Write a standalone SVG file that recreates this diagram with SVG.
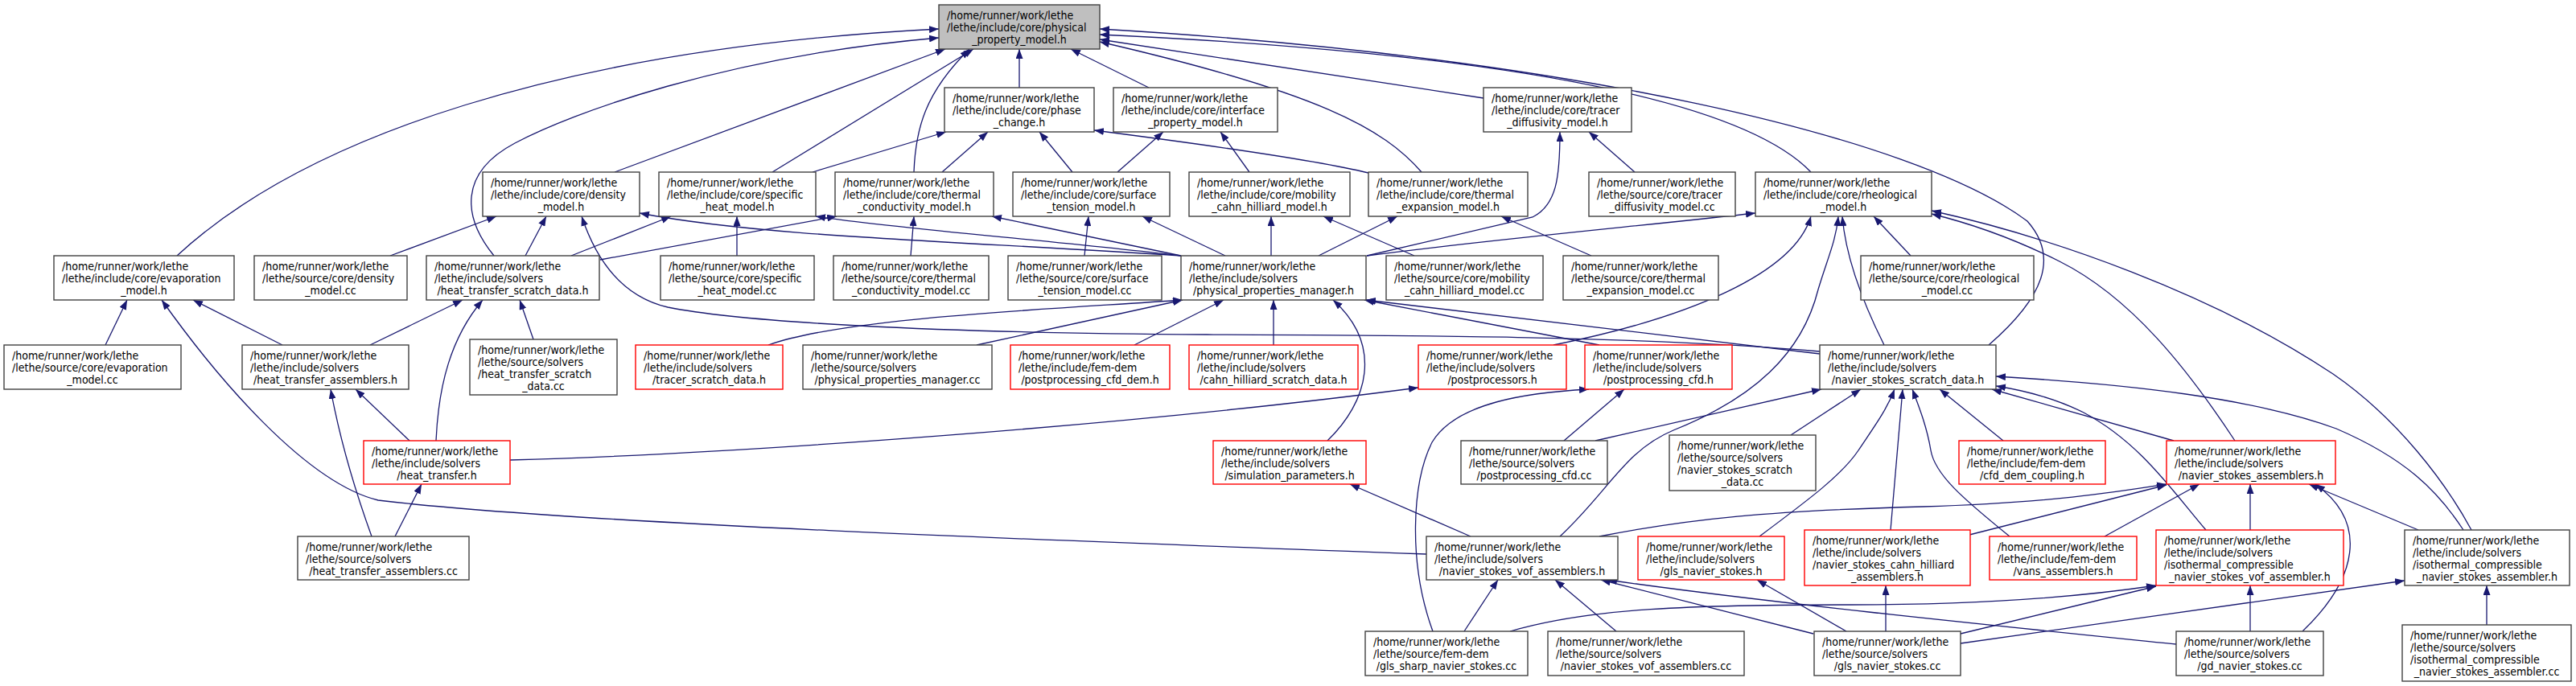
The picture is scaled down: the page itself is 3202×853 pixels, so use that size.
<svg xmlns="http://www.w3.org/2000/svg" width="3202" height="853" viewBox="0 0 3202 853">
<defs>
<marker id="ah" viewBox="0 0 12 9" refX="12" refY="4.5" markerWidth="12" markerHeight="9" markerUnits="userSpaceOnUse" orient="auto"><path d="M0,0 L12,4.5 L0,9 z" fill="#191970"/></marker>
<style>
.e{fill:none;stroke:#191970;stroke-width:1.3;marker-end:url(#ah)}
rect{fill:#fff;stroke:#404040;stroke-width:1.4}
rect.r{stroke:#ff0000}
rect.g{fill:#bfbfbf}
text{font-family:"DejaVu Sans Condensed","DejaVu Sans",sans-serif;font-stretch:condensed;font-size:14px;fill:#000}
.c{text-anchor:middle}
</style>
</defs>
<rect x="0" y="0" width="3202" height="853" style="fill:#fff;stroke:none"/>
<g id="connectors">
<path class="e" d="M220,318 C380,170 700,60 1167,36"/>
<path class="e" d="M614,318 C575,270 570,215 640,178 C710,141 900,70 1167,47"/>
<path class="e" d="M764,214 L1175,61"/>
<path class="e" d="M960,214 L1210,61"/>
<path class="e" d="M1136,214 C1138,160 1150,115 1205,61"/>
<path class="e" d="M1267,109 L1267,61"/>
<path class="e" d="M1428,109 L1331,61"/>
<path class="e" d="M1844,122 L1367,49"/>
<path class="e" d="M1767,214 C1720,160 1640,115 1367,52"/>
<path class="e" d="M2251,214 C2180,140 1950,70 1367,43"/>
<path class="e" d="M2472,429 C2540,370 2560,320 2520,275 C2380,170 1950,70 1367,36"/>
<path class="e" d="M1010,214 L1176,164"/>
<path class="e" d="M1171,214 L1228,164"/>
<path class="e" d="M1333,214 L1292,164"/>
<path class="e" d="M1701,215 C1640,200 1500,180 1360,162"/>
<path class="e" d="M1389,214 L1446,164"/>
<path class="e" d="M1553,214 L1517,164"/>
<path class="e" d="M2032,214 L1975,164"/>
<path class="e" d="M1699,318 L1905,270 C1935,255 1939,220 1939,164"/>
<path class="e" d="M485,318 L617,269"/>
<path class="e" d="M653,318 L679,269"/>
<path class="e" d="M2262,437 C2050,418 1750,417 1500,416 C1150,414 920,400 830,382 C770,368 740,320 723,269"/>
<path class="e" d="M1468,318 C1200,300 950,295 795,265"/>
<path class="e" d="M710,318 L834,269"/>
<path class="e" d="M916,318 L916,269"/>
<path class="e" d="M1468,318 C1300,298 1120,285 1014,269"/>
<path class="e" d="M746,323 L1040,269"/>
<path class="e" d="M1132,318 L1136,269"/>
<path class="e" d="M1468,318 L1233,269"/>
<path class="e" d="M1348,318 L1353,269"/>
<path class="e" d="M1523,318 L1420,269"/>
<path class="e" d="M1580,318 L1580,269"/>
<path class="e" d="M1758,318 L1645,269"/>
<path class="e" d="M1639,318 L1737,269"/>
<path class="e" d="M1978,318 L1866,269"/>
<path class="e" d="M1699,318 C1850,298 2050,280 2182,265"/>
<path class="e" d="M1931,429 C2100,395 2230,340 2251,269"/>
<path class="e" d="M1939,667 C2000,610 2020,560 2080,535 C2180,495 2240,440 2260,360 C2272,320 2282,300 2285,269"/>
<path class="e" d="M2342,429 C2325,395 2295,330 2290,269"/>
<path class="e" d="M2375,318 L2329,269"/>
<path class="e" d="M2778,548 C2720,460 2650,370 2560,325 C2500,295 2450,278 2401,266"/>
<path class="e" d="M3072,659 C3040,600 2980,520 2900,465 C2750,365 2550,295 2401,262"/>
<path class="e" d="M131,429 L158,373"/>
<path class="e" d="M1773,689 C1300,672 700,650 470,622 C380,600 270,470 201,373"/>
<path class="e" d="M351,429 L240,373"/>
<path class="e" d="M460,429 L575,373"/>
<path class="e" d="M542,548 C545,480 560,420 600,373"/>
<path class="e" d="M663,422 L646,373"/>
<path class="e" d="M955,429 C1050,395 1300,385 1470,373"/>
<path class="e" d="M1214,429 L1470,373"/>
<path class="e" d="M1410,429 L1521,373"/>
<path class="e" d="M1583,429 L1583,373"/>
<path class="e" d="M1650,548 C1700,500 1720,430 1657,373"/>
<path class="e" d="M2262,440 L1698,373"/>
<path class="e" d="M1988,429 L1696,373"/>
<path class="e" d="M509,548 L442,484"/>
<path class="e" d="M462,667 C445,620 425,560 411,484"/>
<path class="e" d="M491,667 L524,602"/>
<path class="e" d="M634,572 C900,565 1400,530 1763,482"/>
<path class="e" d="M1944,548 L2019,484"/>
<path class="e" d="M1781,785 C1750,700 1755,600 1780,550 C1810,500 1900,488 1975,484"/>
<path class="e" d="M1983,548 L2264,484"/>
<path class="e" d="M2226,541 L2313,484"/>
<path class="e" d="M2187,667 C2250,620 2290,590 2310,560 C2330,530 2345,510 2355,484"/>
<path class="e" d="M2350,659 L2365,484"/>
<path class="e" d="M2498,667 C2440,620 2405,590 2400,560 C2395,530 2385,505 2377,484"/>
<path class="e" d="M2490,548 L2411,484"/>
<path class="e" d="M2702,548 L2476,484"/>
<path class="e" d="M2742,659 C2700,610 2660,550 2590,513 C2560,498 2520,486 2481,480"/>
<path class="e" d="M3062,659 C3030,610 2990,570 2904,533 C2800,495 2650,478 2481,468"/>
<path class="e" d="M1828,667 L1678,602"/>
<path class="e" d="M1988,667 C2100,645 2200,635 2390,630 C2550,625 2630,612 2693,602"/>
<path class="e" d="M2448,665 L2693,603"/>
<path class="e" d="M2616,667 L2734,602"/>
<path class="e" d="M2797,659 L2797,602"/>
<path class="e" d="M3006,659 L2870,602"/>
<path class="e" d="M2862,785 C2930,720 2945,650 2878,602"/>
<path class="e" d="M1820,785 L1862,721"/>
<path class="e" d="M2009,785 L1933,721"/>
<path class="e" d="M2254,788 L1990,721"/>
<path class="e" d="M2705,801 C2500,780 2200,750 1998,721"/>
<path class="e" d="M2295,785 L2184,721"/>
<path class="e" d="M2344,785 L2344,728"/>
<path class="e" d="M1877,785 C1970,758 2080,752 2300,752 C2480,752 2600,740 2680,728"/>
<path class="e" d="M2437,788 L2680,729"/>
<path class="e" d="M2797,785 L2797,728"/>
<path class="e" d="M2437,800 L2989,722"/>
<path class="e" d="M3091,777 L3091,728"/>
</g>
<g id="n1"><rect class="g" x="1167" y="6" width="200" height="55"/><text x="1177" y="24">/home/runner/work/lethe</text><text x="1177" y="39">/lethe/include/core/physical</text><text class="c" x="1267" y="54">_property_model.h</text></g>
<g id="n2"><rect x="1174" y="109" width="186" height="55"/><text x="1184" y="127">/home/runner/work/lethe</text><text x="1184" y="142">/lethe/include/core/phase</text><text class="c" x="1267" y="157">_change.h</text></g>
<g id="n3"><rect x="1384" y="109" width="204" height="55"/><text x="1394" y="127">/home/runner/work/lethe</text><text x="1394" y="142">/lethe/include/core/interface</text><text class="c" x="1486" y="157">_property_model.h</text></g>
<g id="n4"><rect x="1844" y="109" width="184" height="55"/><text x="1854" y="127">/home/runner/work/lethe</text><text x="1854" y="142">/lethe/include/core/tracer</text><text class="c" x="1936" y="157">_diffusivity_model.h</text></g>
<g id="n5"><rect x="600" y="214" width="195" height="55"/><text x="610" y="232">/home/runner/work/lethe</text><text x="610" y="247">/lethe/include/core/density</text><text class="c" x="697.5" y="262">_model.h</text></g>
<g id="n6"><rect x="819" y="214" width="195" height="55"/><text x="829" y="232">/home/runner/work/lethe</text><text x="829" y="247">/lethe/include/core/specific</text><text class="c" x="916.5" y="262">_heat_model.h</text></g>
<g id="n7"><rect x="1038" y="214" width="197" height="55"/><text x="1048" y="232">/home/runner/work/lethe</text><text x="1048" y="247">/lethe/include/core/thermal</text><text class="c" x="1136.5" y="262">_conductivity_model.h</text></g>
<g id="n8"><rect x="1259" y="214" width="195" height="55"/><text x="1269" y="232">/home/runner/work/lethe</text><text x="1269" y="247">/lethe/include/core/surface</text><text class="c" x="1356.5" y="262">_tension_model.h</text></g>
<g id="n9"><rect x="1478" y="214" width="200" height="55"/><text x="1488" y="232">/home/runner/work/lethe</text><text x="1488" y="247">/lethe/include/core/mobility</text><text class="c" x="1578" y="262">_cahn_hilliard_model.h</text></g>
<g id="n10"><rect x="1701" y="214" width="198" height="55"/><text x="1711" y="232">/home/runner/work/lethe</text><text x="1711" y="247">/lethe/include/core/thermal</text><text class="c" x="1800" y="262">_expansion_model.h</text></g>
<g id="n11"><rect x="1975" y="214" width="182" height="55"/><text x="1985" y="232">/home/runner/work/lethe</text><text x="1985" y="247">/lethe/source/core/tracer</text><text class="c" x="2066" y="262">_diffusivity_model.cc</text></g>
<g id="n12"><rect x="2182" y="214" width="219" height="55"/><text x="2192" y="232">/home/runner/work/lethe</text><text x="2192" y="247">/lethe/include/core/rheological</text><text class="c" x="2291.5" y="262">_model.h</text></g>
<g id="n13"><rect x="67" y="318" width="224" height="55"/><text x="77" y="336">/home/runner/work/lethe</text><text x="77" y="351">/lethe/include/core/evaporation</text><text class="c" x="179" y="366">_model.h</text></g>
<g id="n14"><rect x="316" y="318" width="190" height="55"/><text x="326" y="336">/home/runner/work/lethe</text><text x="326" y="351">/lethe/source/core/density</text><text class="c" x="411" y="366">_model.cc</text></g>
<g id="n15"><rect x="530" y="318" width="215" height="55"/><text x="540" y="336">/home/runner/work/lethe</text><text x="540" y="351">/lethe/include/solvers</text><text class="c" x="637.5" y="366">/heat_transfer_scratch_data.h</text></g>
<g id="n16"><rect x="821" y="318" width="191" height="55"/><text x="831" y="336">/home/runner/work/lethe</text><text x="831" y="351">/lethe/source/core/specific</text><text class="c" x="916.5" y="366">_heat_model.cc</text></g>
<g id="n17"><rect x="1036" y="318" width="193" height="55"/><text x="1046" y="336">/home/runner/work/lethe</text><text x="1046" y="351">/lethe/source/core/thermal</text><text class="c" x="1132.5" y="366">_conductivity_model.cc</text></g>
<g id="n18"><rect x="1253" y="318" width="191" height="55"/><text x="1263" y="336">/home/runner/work/lethe</text><text x="1263" y="351">/lethe/source/core/surface</text><text class="c" x="1348.5" y="366">_tension_model.cc</text></g>
<g id="n19"><rect x="1468" y="318" width="230" height="55"/><text x="1478" y="336">/home/runner/work/lethe</text><text x="1478" y="351">/lethe/include/solvers</text><text class="c" x="1583" y="366">/physical_properties_manager.h</text></g>
<g id="n20"><rect x="1723" y="318" width="195" height="55"/><text x="1733" y="336">/home/runner/work/lethe</text><text x="1733" y="351">/lethe/source/core/mobility</text><text class="c" x="1820.5" y="366">_cahn_hilliard_model.cc</text></g>
<g id="n21"><rect x="1943" y="318" width="193" height="55"/><text x="1953" y="336">/home/runner/work/lethe</text><text x="1953" y="351">/lethe/source/core/thermal</text><text class="c" x="2039.5" y="366">_expansion_model.cc</text></g>
<g id="n22"><rect x="2313" y="318" width="215" height="55"/><text x="2323" y="336">/home/runner/work/lethe</text><text x="2323" y="351">/lethe/source/core/rheological</text><text class="c" x="2420.5" y="366">_model.cc</text></g>
<g id="n23"><rect x="5" y="429" width="220" height="55"/><text x="15" y="447">/home/runner/work/lethe</text><text x="15" y="462">/lethe/source/core/evaporation</text><text class="c" x="115" y="477">_model.cc</text></g>
<g id="n24"><rect x="301" y="429" width="207" height="55"/><text x="311" y="447">/home/runner/work/lethe</text><text x="311" y="462">/lethe/include/solvers</text><text class="c" x="404.5" y="477">/heat_transfer_assemblers.h</text></g>
<g id="n25"><rect x="584" y="422" width="183" height="69"/><text x="594" y="439.5">/home/runner/work/lethe</text><text x="594" y="454.5">/lethe/source/solvers</text><text x="594" y="469.5">/heat_transfer_scratch</text><text class="c" x="675.5" y="484.5">_data.cc</text></g>
<g id="n26"><rect class="r" x="790" y="429" width="183" height="55"/><text x="800" y="447">/home/runner/work/lethe</text><text x="800" y="462">/lethe/include/solvers</text><text class="c" x="881.5" y="477">/tracer_scratch_data.h</text></g>
<g id="n27"><rect x="998" y="429" width="235" height="55"/><text x="1008" y="447">/home/runner/work/lethe</text><text x="1008" y="462">/lethe/source/solvers</text><text class="c" x="1115.5" y="477">/physical_properties_manager.cc</text></g>
<g id="n28"><rect class="r" x="1256" y="429" width="198" height="55"/><text x="1266" y="447">/home/runner/work/lethe</text><text x="1266" y="462">/lethe/include/fem-dem</text><text class="c" x="1355" y="477">/postprocessing_cfd_dem.h</text></g>
<g id="n29"><rect class="r" x="1478" y="429" width="210" height="55"/><text x="1488" y="447">/home/runner/work/lethe</text><text x="1488" y="462">/lethe/include/solvers</text><text class="c" x="1583" y="477">/cahn_hilliard_scratch_data.h</text></g>
<g id="n30"><rect class="r" x="1763" y="429" width="184" height="55"/><text x="1773" y="447">/home/runner/work/lethe</text><text x="1773" y="462">/lethe/include/solvers</text><text class="c" x="1855" y="477">/postprocessors.h</text></g>
<g id="n31"><rect class="r" x="1970" y="429" width="183" height="55"/><text x="1980" y="447">/home/runner/work/lethe</text><text x="1980" y="462">/lethe/include/solvers</text><text class="c" x="2061.5" y="477">/postprocessing_cfd.h</text></g>
<g id="n32"><rect x="2262" y="429" width="219" height="55"/><text x="2272" y="447">/home/runner/work/lethe</text><text x="2272" y="462">/lethe/include/solvers</text><text class="c" x="2371.5" y="477">/navier_stokes_scratch_data.h</text></g>
<g id="n33"><rect class="r" x="452" y="548" width="182" height="54"/><text x="462" y="566">/home/runner/work/lethe</text><text x="462" y="581">/lethe/include/solvers</text><text class="c" x="543" y="596">/heat_transfer.h</text></g>
<g id="n34"><rect class="r" x="1508" y="548" width="190" height="54"/><text x="1518" y="566">/home/runner/work/lethe</text><text x="1518" y="581">/lethe/include/solvers</text><text class="c" x="1603" y="596">/simulation_parameters.h</text></g>
<g id="n35"><rect x="1816" y="548" width="182" height="54"/><text x="1826" y="566">/home/runner/work/lethe</text><text x="1826" y="581">/lethe/source/solvers</text><text class="c" x="1907" y="596">/postprocessing_cfd.cc</text></g>
<g id="n36"><rect x="2075" y="541" width="182" height="69"/><text x="2085" y="558.5">/home/runner/work/lethe</text><text x="2085" y="573.5">/lethe/source/solvers</text><text x="2085" y="588.5">/navier_stokes_scratch</text><text class="c" x="2166" y="603.5">_data.cc</text></g>
<g id="n37"><rect class="r" x="2435" y="548" width="182" height="54"/><text x="2445" y="566">/home/runner/work/lethe</text><text x="2445" y="581">/lethe/include/fem-dem</text><text class="c" x="2526" y="596">/cfd_dem_coupling.h</text></g>
<g id="n38"><rect class="r" x="2693" y="548" width="210" height="54"/><text x="2703" y="566">/home/runner/work/lethe</text><text x="2703" y="581">/lethe/include/solvers</text><text class="c" x="2798" y="596">/navier_stokes_assemblers.h</text></g>
<g id="n39"><rect x="370" y="667" width="213" height="54"/><text x="380" y="685">/home/runner/work/lethe</text><text x="380" y="700">/lethe/source/solvers</text><text class="c" x="476.5" y="715">/heat_transfer_assemblers.cc</text></g>
<g id="n40"><rect x="1773" y="667" width="238" height="54"/><text x="1783" y="685">/home/runner/work/lethe</text><text x="1783" y="700">/lethe/include/solvers</text><text class="c" x="1892" y="715">/navier_stokes_vof_assemblers.h</text></g>
<g id="n41"><rect class="r" x="2036" y="667" width="182" height="54"/><text x="2046" y="685">/home/runner/work/lethe</text><text x="2046" y="700">/lethe/include/solvers</text><text class="c" x="2127" y="715">/gls_navier_stokes.h</text></g>
<g id="n42"><rect class="r" x="2243" y="659" width="206" height="69"/><text x="2253" y="676.5">/home/runner/work/lethe</text><text x="2253" y="691.5">/lethe/include/solvers</text><text x="2253" y="706.5">/navier_stokes_cahn_hilliard</text><text class="c" x="2346" y="721.5">_assemblers.h</text></g>
<g id="n43"><rect class="r" x="2473" y="667" width="183" height="54"/><text x="2483" y="685">/home/runner/work/lethe</text><text x="2483" y="700">/lethe/include/fem-dem</text><text class="c" x="2564.5" y="715">/vans_assemblers.h</text></g>
<g id="n44"><rect class="r" x="2680" y="659" width="233" height="69"/><text x="2690" y="676.5">/home/runner/work/lethe</text><text x="2690" y="691.5">/lethe/include/solvers</text><text x="2690" y="706.5">/isothermal_compressible</text><text class="c" x="2796.5" y="721.5">_navier_stokes_vof_assembler.h</text></g>
<g id="n45"><rect x="2989" y="659" width="205" height="69"/><text x="2999" y="676.5">/home/runner/work/lethe</text><text x="2999" y="691.5">/lethe/include/solvers</text><text x="2999" y="706.5">/isothermal_compressible</text><text class="c" x="3091.5" y="721.5">_navier_stokes_assembler.h</text></g>
<g id="n46"><rect x="1697" y="785" width="202" height="55"/><text x="1707" y="803">/home/runner/work/lethe</text><text x="1707" y="818">/lethe/source/fem-dem</text><text class="c" x="1798" y="833">/gls_sharp_navier_stokes.cc</text></g>
<g id="n47"><rect x="1924" y="785" width="244" height="55"/><text x="1934" y="803">/home/runner/work/lethe</text><text x="1934" y="818">/lethe/source/solvers</text><text class="c" x="2046" y="833">/navier_stokes_vof_assemblers.cc</text></g>
<g id="n48"><rect x="2255" y="785" width="182" height="55"/><text x="2265" y="803">/home/runner/work/lethe</text><text x="2265" y="818">/lethe/source/solvers</text><text class="c" x="2346" y="833">/gls_navier_stokes.cc</text></g>
<g id="n49"><rect x="2705" y="785" width="183" height="55"/><text x="2715" y="803">/home/runner/work/lethe</text><text x="2715" y="818">/lethe/source/solvers</text><text class="c" x="2796.5" y="833">/gd_navier_stokes.cc</text></g>
<g id="n50"><rect x="2986" y="777" width="210" height="70"/><text x="2996" y="794.5">/home/runner/work/lethe</text><text x="2996" y="809.5">/lethe/source/solvers</text><text x="2996" y="824.5">/isothermal_compressible</text><text class="c" x="3091" y="839.5">_navier_stokes_assembler.cc</text></g>
</svg>
